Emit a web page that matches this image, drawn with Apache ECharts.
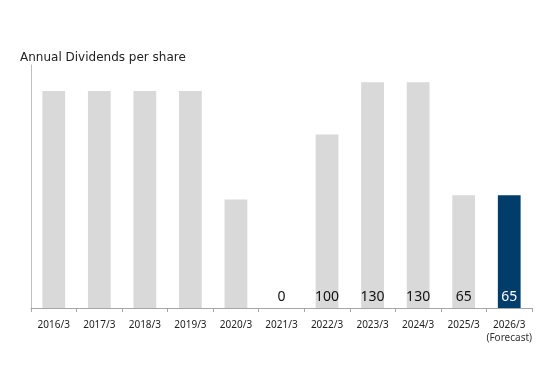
<!DOCTYPE html>
<html><head><meta charset="utf-8">
<script src="https://cdn.jsdelivr.net/npm/echarts@6/dist/echarts.min.js"></script>
<style>html,body{margin:0;padding:0;background:#fff}#c{width:560px;height:374px}</style>
</head><body><div id="c"></div>
<script>
const categories = ['2016/3','2017/3','2018/3','2019/3','2020/3','2021/3','2022/3','2023/3','2024/3','2025/3','2026/3'];
const dividends = [125, 125, 125, 125, 62.5, 0, 100, 130, 130, 65, 65];
const shownLabels = [null, null, null, null, null, '0', '100', '130', '130', '65', '65'];
const forecastIndex = 10;

const chart = echarts.init(document.getElementById('c'));
const titleFont = '"DejaVu Sans", sans-serif';
const font = '"Noto Sans", sans-serif';
chart.setOption({
  animation: false,
  title: { text: 'Annual Dividends per share', left: 15, top: 47,
    textStyle: { fontFamily: titleFont, fontSize: 12, fontWeight: 'normal', color: '#222' } },
  grid: { left: 31, right: 28, top: 65, bottom: 66 },
  xAxis: {
    type: 'category', data: categories,
    axisLine: { lineStyle: { color: '#a6a6a6' } },
    axisTick: { show: true, length: 4, lineStyle: { color: '#a6a6a6' } },
    axisLabel: {
      interval: 0, margin: 10, color: '#222', fontFamily: font, fontSize: 10, lineHeight: 14,
      formatter: (v, i) => i === forecastIndex ? v + '\n{f|(Forecast)}' : v,
      rich: { f: { fontSize: 10, fontFamily: font, color: '#333', lineHeight: 13 } }
    }
  },
  yAxis: {
    type: 'value', min: 0, max: 140,
    axisLine: { show: true, lineStyle: { color: '#bfbfbf' } },
    axisTick: { show: false }, axisLabel: { show: false }, splitLine: { show: false }
  },
  series: [{
    type: 'bar', barWidth: '50%',
    data: dividends.map((v, i) => ({
      value: v,
      itemStyle: { color: i === forecastIndex ? '#003d6b' : '#d9d9d9' },
      label: {
        show: shownLabels[i] !== null,
        position: 'insideBottom', distance: 4,
        formatter: () => shownLabels[i],
        color: i === forecastIndex ? '#fff' : '#111',
        fontFamily: font, fontSize: 14
      }
    }))
  }]
});
</script></body></html>
